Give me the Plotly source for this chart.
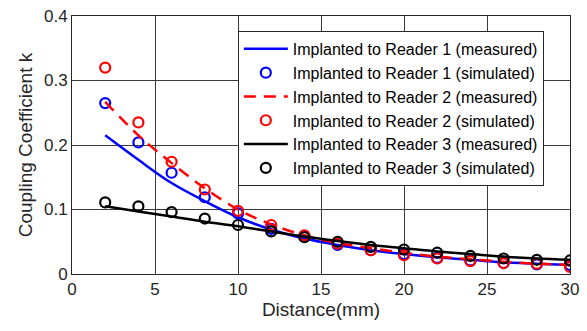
import plotly.graph_objects as go

dist = [2, 4, 6, 8, 10, 12, 14, 16, 18, 20, 22, 24, 26, 28, 30]

r1_meas = [0.215, 0.177, 0.141, 0.113, 0.088, 0.069, 0.055, 0.045, 0.037, 0.031, 0.026, 0.022, 0.018, 0.016, 0.014]
r1_sim = [0.265, 0.204, 0.157, 0.119, 0.094, 0.070, 0.058, 0.045, 0.037, 0.031, 0.025, 0.021, 0.017, 0.015, 0.014]
r2_meas = [0.267, 0.215, 0.172, 0.133, 0.100, 0.077, 0.060, 0.048, 0.040, 0.033, 0.027, 0.023, 0.019, 0.016, 0.014]
r2_sim = [0.320, 0.235, 0.174, 0.131, 0.098, 0.076, 0.060, 0.047, 0.037, 0.029, 0.024, 0.020, 0.017, 0.016, 0.011]
r3_meas = [0.105, 0.097, 0.089, 0.081, 0.074, 0.066, 0.058, 0.051, 0.045, 0.040, 0.035, 0.031, 0.027, 0.024, 0.022]
r3_sim = [0.111, 0.105, 0.096, 0.086, 0.076, 0.066, 0.057, 0.050, 0.042, 0.038, 0.033, 0.028, 0.024, 0.022, 0.021]

x_ticks = [0, 5, 10, 15, 20, 25, 30]
y_ticks = [0, 0.1, 0.2, 0.3, 0.4]
y_ticktext = ["0", "0.1", "0.2", "0.3", "0.4"]

names = [
    "Implanted to Reader 1 (measured)",
    "Implanted to Reader 1 (simulated)",
    "Implanted to Reader 2 (measured)",
    "Implanted to Reader 2 (simulated)",
    "Implanted to Reader 3 (measured)",
    "Implanted to Reader 3 (simulated)",
]

FONT = "Liberation Sans, Arial, sans-serif"

fig = go.Figure()
fig.add_trace(go.Scatter(x=dist, y=r1_meas, mode="lines", name=names[0],
                         line=dict(color="#0000ff", width=2.5, shape="spline")))
fig.add_trace(go.Scatter(x=dist, y=r1_sim, mode="markers", name=names[1],
                         marker=dict(symbol="circle-open", size=10, color="#0000ff", line=dict(width=2.2))))
fig.add_trace(go.Scatter(x=dist, y=r2_meas, mode="lines", name=names[2],
                         line=dict(color="#ff0000", width=2.5, dash="12px,8px", shape="spline")))
fig.add_trace(go.Scatter(x=dist, y=r2_sim, mode="markers", name=names[3],
                         marker=dict(symbol="circle-open", size=10, color="#ff0000", line=dict(width=2.2))))
fig.add_trace(go.Scatter(x=dist, y=r3_meas, mode="lines", name=names[4],
                         line=dict(color="#000000", width=2.5, shape="spline")))
fig.add_trace(go.Scatter(x=dist, y=r3_sim, mode="markers", name=names[5],
                         marker=dict(symbol="circle-open", size=10, color="#000000", line=dict(width=2.2))))

axis_common = dict(
    showline=True, linecolor="#262626", linewidth=1, mirror=True,
    showgrid=True, gridcolor="#3a3a3a", gridwidth=1,
    zeroline=False, ticks="", automargin=False,
    tickfont=dict(family=FONT, size=17, color="#262626"),
)

fig.update_layout(
    width=587, height=331, autosize=False,
    margin=dict(l=72, r=17, t=16, b=57, pad=0),
    paper_bgcolor="white", plot_bgcolor="white",
    font=dict(family=FONT, color="#262626"),
    xaxis=dict(range=[0, 30], tickvals=x_ticks,
               title=dict(text="Distance(mm)", font=dict(size=19), standoff=4), **axis_common),
    yaxis=dict(range=[0, 0.4], tickvals=y_ticks, ticktext=y_ticktext,
               title=dict(text="Coupling Coefficient k", font=dict(size=19), standoff=6), **axis_common),
    legend=dict(x=0.333, y=0.942, xanchor="left", yanchor="top",
                bgcolor="white", bordercolor="#262626", borderwidth=1,
                font=dict(family=FONT, size=16, color="#000000"),
                itemwidth=44, tracegroupgap=0),
    showlegend=True,
)

fig.write_html("out.html", config={"displayModeBar": False},
               post_script="document.body.style.margin='0';document.body.style.padding='0';")
